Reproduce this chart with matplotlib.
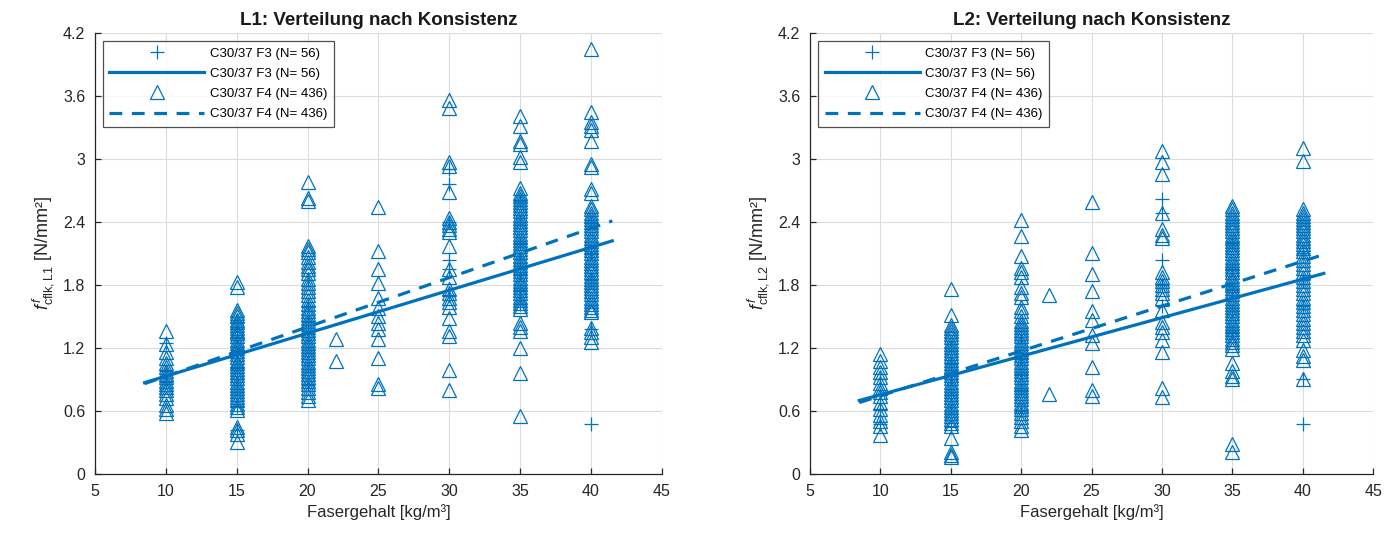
#!/usr/bin/env python

import matplotlib
matplotlib.use('Agg')
from matplotlib import pyplot as plt

plt.rcParams['font.family'] = ['Liberation Sans', 'DejaVu Sans']
plt.rcParams['mathtext.fontset'] = 'custom'
plt.rcParams['mathtext.rm'] = 'Liberation Sans'
plt.rcParams['mathtext.it'] = 'Liberation Sans:italic'

# L1 panel
l1_f4 = {
    10: [1.36, 1.24, 1.16, 1.10, 1.06, 1.02, 0.98, 0.95, 0.92, 0.89, 0.86, 0.83, 0.80, 0.76, 0.72, 0.66, 0.62, 0.58],
    15: [1.83, 1.78, 1.56, 1.53, 1.50, 1.47, 1.45, 1.42, 1.39, 1.36, 1.34, 1.31, 1.28, 1.25, 1.22, 1.20, 1.17, 1.14,
         1.11, 1.08, 1.06, 1.03, 1.00, 0.97, 0.94, 0.91, 0.88, 0.85, 0.82, 0.79, 0.76, 0.73, 0.70, 0.67, 0.64, 0.61,
         0.45, 0.42, 0.38, 0.30],
    20: [2.78, 2.63, 2.60, 2.17, 2.14, 2.11, 2.07, 2.02, 1.98, 1.95, 1.91, 1.86, 1.82, 1.78, 1.74, 1.70, 1.66, 1.62,
         1.58, 1.55, 1.52, 1.49, 1.46, 1.43, 1.40, 1.37, 1.34, 1.31, 1.28, 1.25, 1.22, 1.19, 1.16, 1.13, 1.10, 1.07,
         1.04, 1.01, 0.98, 0.95, 0.92, 0.89, 0.86, 0.82, 0.78, 0.74, 0.70],
    22: [1.29, 1.08],
    25: [2.54, 2.12, 1.95, 1.82, 1.68, 1.58, 1.50, 1.44, 1.38, 1.29, 1.10, 0.86, 0.82],
    30: [3.56, 3.49, 2.97, 2.93, 2.69, 2.44, 2.40, 2.37, 2.33, 2.30, 2.17, 1.95, 1.88, 1.76, 1.72, 1.68, 1.64, 1.59,
         1.49, 1.36, 1.31, 0.99, 0.80],
    35: [3.41, 3.31, 3.17, 3.14, 3.02, 2.97, 2.72, 2.68, 2.65, 2.62, 2.59, 2.56, 2.53, 2.50, 2.47, 2.44, 2.41, 2.38,
         2.35, 2.32, 2.29, 2.26, 2.23, 2.20, 2.17, 2.14, 2.11, 2.08, 2.05, 2.02, 1.99, 1.96, 1.93, 1.90, 1.87, 1.84,
         1.81, 1.78, 1.75, 1.72, 1.69, 1.66, 1.63, 1.60, 1.57, 1.44, 1.40, 1.36, 1.20, 0.96, 0.55],
    40: [4.05, 3.45, 3.35, 3.31, 3.28, 3.17, 2.95, 2.92, 2.71, 2.68, 2.55, 2.52, 2.49, 2.46, 2.43, 2.40, 2.37, 2.34,
         2.31, 2.28, 2.25, 2.22, 2.19, 2.16, 2.13, 2.10, 2.07, 2.04, 2.01, 1.98, 1.95, 1.92, 1.89, 1.86, 1.83, 1.80,
         1.77, 1.74, 1.71, 1.68, 1.65, 1.62, 1.59, 1.56, 1.54, 1.39, 1.35, 1.30, 1.26],
}
l1_f3 = {
    10: [1.25, 0.98, 0.88],
    15: [1.45, 1.30, 1.15, 1.02, 0.90, 0.78, 0.65, 0.42],
    20: [1.85, 1.60, 1.45, 1.30, 1.15, 1.00, 0.85],
    30: [2.90, 2.76, 2.40, 2.04, 1.95, 1.70],
    35: [2.60, 2.40, 2.20, 2.05, 1.90, 1.75, 1.62],
    40: [2.40, 2.10, 1.85, 1.38, 0.48],
}

# L2 panel
l2_f4 = {
    10: [1.14, 1.08, 1.02, 0.97, 0.92, 0.87, 0.82, 0.78, 0.74, 0.68, 0.62, 0.56, 0.50, 0.46, 0.37],
    15: [1.76, 1.51, 1.42, 1.39, 1.36, 1.33, 1.30, 1.27, 1.24, 1.21, 1.18, 1.15, 1.12, 1.09, 1.06, 1.03, 1.00, 0.97,
         0.94, 0.91, 0.88, 0.85, 0.82, 0.79, 0.76, 0.73, 0.70, 0.67, 0.64, 0.61, 0.58, 0.55, 0.52, 0.49, 0.46, 0.34,
         0.21, 0.18, 0.16],
    20: [2.42, 2.27, 2.08, 1.96, 1.92, 1.88, 1.78, 1.72, 1.69, 1.59, 1.55, 1.50, 1.46, 1.43, 1.40, 1.37, 1.34, 1.31,
         1.28, 1.25, 1.22, 1.19, 1.16, 1.13, 1.10, 1.07, 1.04, 1.01, 0.98, 0.95, 0.92, 0.89, 0.86, 0.83, 0.80, 0.77,
         0.74, 0.71, 0.68, 0.65, 0.62, 0.58, 0.54, 0.50, 0.46, 0.42],
    22: [1.70, 0.76],
    25: [2.59, 2.10, 1.90, 1.74, 1.55, 1.47, 1.32, 1.25, 1.02, 0.80, 0.74],
    30: [3.08, 2.97, 2.86, 2.49, 2.33, 2.28, 2.25, 1.92, 1.88, 1.84, 1.80, 1.76, 1.72, 1.68, 1.56, 1.45, 1.40, 1.35,
         1.28, 1.16, 0.82, 0.73],
    35: [2.55, 2.52, 2.49, 2.46, 2.43, 2.40, 2.37, 2.34, 2.31, 2.28, 2.25, 2.22, 2.19, 2.16, 2.13, 2.10, 2.07, 2.04,
         2.01, 1.98, 1.95, 1.92, 1.89, 1.86, 1.83, 1.80, 1.77, 1.74, 1.71, 1.68, 1.65, 1.62, 1.59, 1.56, 1.53, 1.50,
         1.47, 1.44, 1.41, 1.38, 1.35, 1.32, 1.29, 1.26, 1.23, 1.19, 1.06, 0.98, 0.93, 0.90, 0.29, 0.21],
    40: [3.10, 2.98, 2.52, 2.49, 2.46, 2.43, 2.40, 2.37, 2.34, 2.31, 2.28, 2.25, 2.22, 2.19, 2.15, 2.12, 2.08, 2.04,
         2.00, 1.96, 1.92, 1.88, 1.84, 1.80, 1.76, 1.72, 1.68, 1.64, 1.60, 1.56, 1.52, 1.48, 1.44, 1.40, 1.36, 1.32,
         1.28, 1.18, 1.12, 1.09, 0.90],
}
l2_f3 = {
    10: [0.90, 0.75, 0.62, 0.48],
    15: [1.20, 1.05, 0.90, 0.75, 0.60, 0.45],
    20: [1.30, 1.10, 0.95, 0.80, 0.60],
    30: [2.62, 2.49, 2.04, 1.80, 1.60],
    35: [2.20, 1.95, 1.75, 1.55, 1.35],
    40: [2.10, 1.85, 1.60, 0.90, 0.48],
}

# regression lines (end points)
fit_x = [8.5, 41.5]
l1_fit_f3 = [0.87, 2.22]
l1_fit_f4 = [0.86, 2.41]
l2_fit_f3 = [0.70, 1.91]
l2_fit_f4 = [0.68, 2.09]

x_ticks = [5, 10, 15, 20, 25, 30, 35, 40, 45]
y_ticks = [0, 0.6, 1.2, 1.8, 2.4, 3, 3.6, 4.2]
y_ticklabels = ['0', '0.6', '1.2', '1.8', '2.4', '3', '3.6', '4.2']

blue = '#0072BD'
dark = '#262626'


def flatten(groups):
    xs, ys = [], []
    for k, vals in groups.items():
        xs += [k] * len(vals)
        ys += vals
    return xs, ys


fig = plt.figure(figsize=(13.92, 5.42), dpi=100)
ax1 = fig.add_axes([0.0682, 0.1255, 0.4073, 0.8137])
ax2 = fig.add_axes([0.5819, 0.1255, 0.4045, 0.8137])

panels = [
    (ax1, l1_f3, l1_f4, l1_fit_f3, l1_fit_f4, 'L1'),
    (ax2, l2_f3, l2_f4, l2_fit_f3, l2_fit_f4, 'L2'),
]

for ax, f3, f4, fit3, fit4, name in panels:
    x3, y3 = flatten(f3)
    x4, y4 = flatten(f4)
    ax.plot(x3, y3, linestyle='none', marker='+', markersize=10, markeredgewidth=0.9,
            color=blue, label='C30/37 F3 (N= 56)')
    ax.plot(fit_x, fit3, '-', color=blue, linewidth=2.3, label='C30/37 F3 (N= 56)')
    ax.plot(x4, y4, linestyle='none', marker='^', markersize=10, markeredgewidth=0.9,
            markerfacecolor='none', color=blue, label='C30/37 F4 (N= 436)')
    ax.plot(fit_x, fit4, '--', color=blue, linewidth=2.3, dashes=(4, 3), label='C30/37 F4 (N= 436)')

    ax.set_xlim(5, 45)
    ax.set_ylim(0, 4.2)
    ax.set_xticks(x_ticks)
    ax.set_yticks(y_ticks)
    ax.set_yticklabels(y_ticklabels)
    ax.grid(True, color='#dcdcdc', linewidth=0.8)
    ax.set_axisbelow(True)
    for s in ['top', 'right']:
        ax.spines[s].set_visible(False)
    for s in ['left', 'bottom']:
        ax.spines[s].set_color(dark)
        ax.spines[s].set_linewidth(0.9)
    ax.tick_params(direction='in', length=4, width=0.9, colors=dark, labelsize=11.5, pad=7)

    ax.set_title(name + ': Verteilung nach Konsistenz', fontsize=13.5, fontweight='bold', color='#1a1a1a', pad=6)
    ax.set_xlabel('Fasergehalt [kg/m³]', fontsize=12, color=dark, labelpad=4)
    ax.set_ylabel(r'$f^{\,f}_{\mathrm{cflk,' + name + '}}$ [N/mm²]', fontsize=13, color=dark, labelpad=5)

    leg = ax.legend(loc='upper left', fontsize=9.5, handlelength=7.2, frameon=True, fancybox=False,
                    borderaxespad=0.6, labelspacing=0.6, handletextpad=0.4, borderpad=0.5)
    leg.get_frame().set_edgecolor(dark)
    leg.get_frame().set_linewidth(0.9)

fig.savefig('out.png', dpi=100)
